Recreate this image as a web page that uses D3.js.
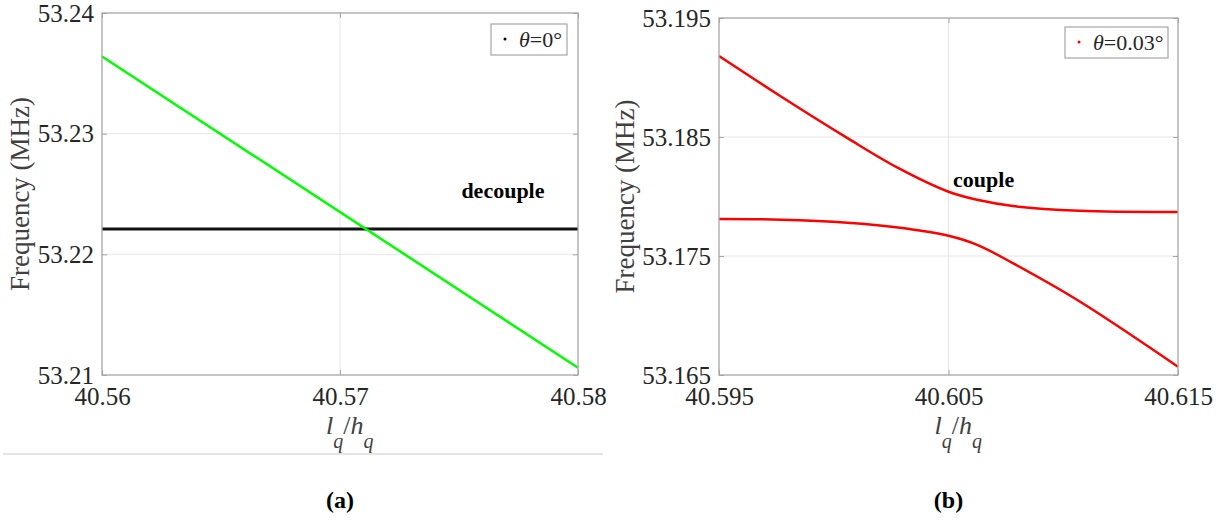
<!DOCTYPE html>
<html>
<head>
<meta charset="utf-8">
<script src="https://cdn.jsdelivr.net/npm/d3@7"></script>
<style>
  body { margin: 0; background: #fff; }
  svg { display: block; font-family: "Liberation Serif", "Times New Roman", serif; }
</style>
</head>
<body>
<svg id="chart" width="1230" height="520"></svg>
<script>
// panel (a): decoupled, theta = 0
const xA = [40.56, 40.58];
const greenA = [53.2364, 53.2106];
const blackA = [53.2221, 53.2221];
const xTicksA = [40.56, 40.57, 40.58];
const yTicksA = [53.21, 53.22, 53.23, 53.24];

// panel (b): coupled, theta = 0.03
const xB = [40.595, 40.5977, 40.6006, 40.6028, 40.605, 40.6063, 40.6078, 40.6107, 40.615];
const upperB = [53.1918, 53.1884, 53.1849, 53.1824, 53.1804, 53.1797, 53.1792, 53.1788, 53.1787];
const lowerB = [53.1781, 53.17805, 53.1778, 53.1774, 53.1767, 53.1759, 53.1744, 53.1712, 53.1657];
const xTicksB = [40.595, 40.605, 40.615];
const yTicksB = [53.165, 53.175, 53.185, 53.195];

const svg = d3.select("#chart");

function drawPanel(o) {
  const x = d3.scaleLinear().domain(d3.extent(o.xTicks)).range([o.left, o.right]);
  const y = d3.scaleLinear().domain(d3.extent(o.yTicks)).range([o.bottom, o.top]);
  const g = svg.append("g");

  // grid
  g.selectAll(".gx").data(o.xTicks.slice(1, -1)).enter().append("line")
    .attr("x1", d => x(d)).attr("x2", d => x(d))
    .attr("y1", o.top).attr("y2", o.bottom)
    .attr("stroke", "#e6e6e6").attr("stroke-width", 1);
  g.selectAll(".gy").data(o.yTicks.slice(1, -1)).enter().append("line")
    .attr("x1", o.left).attr("x2", o.right)
    .attr("y1", d => y(d)).attr("y2", d => y(d))
    .attr("stroke", "#e6e6e6").attr("stroke-width", 1);

  // series
  const line = d3.line().x(d => x(d[0])).y(d => y(d[1])).curve(d3.curveCatmullRom.alpha(0.5));
  o.series.forEach(s => {
    g.append("path")
      .datum(o.xs.map((v, i) => [v, s.values[i]]))
      .attr("d", line)
      .attr("fill", "none")
      .attr("stroke", s.color)
      .attr("stroke-width", s.width);
  });

  // box + inward ticks
  g.append("rect")
    .attr("x", o.left).attr("y", o.top)
    .attr("width", o.right - o.left).attr("height", o.bottom - o.top)
    .attr("fill", "none").attr("stroke", "#a6a6a6").attr("stroke-width", 1.3);

  const axL = d3.axisLeft(y).tickValues(o.yTicks).tickSize(-5).tickPadding(8)
    .tickFormat(d3.format(o.yFmt));
  const axB = d3.axisBottom(x).tickValues(o.xTicks).tickSize(-5).tickPadding(7)
    .tickFormat(d3.format(o.xFmt));
  const axR = d3.axisRight(y).tickValues(o.yTicks).tickSize(-5).tickFormat("");
  const axT = d3.axisTop(x).tickValues(o.xTicks).tickSize(-5).tickFormat("");

  [[axL, `translate(${o.left},0)`, "l"], [axB, `translate(0,${o.bottom})`, "b"],
   [axR, `translate(${o.right},0)`, "r"], [axT, `translate(0,${o.top})`, "t"]].forEach(([ax, t, k]) => {
    const a = g.append("g").attr("transform", t).call(ax);
    a.select(".domain").remove();
    a.selectAll("line").attr("stroke", "#a6a6a6");
    a.selectAll("text").attr("fill", "#262626").style("font-size", "25px")
      .style("font-family", "Liberation Serif, Times New Roman, serif");
    if (k === "b") a.selectAll("text").attr("dy", "0.93em");
  });

  // y label
  const cy = (o.top + o.bottom) / 2;
  g.append("text")
    .attr("transform", `translate(${o.left - o.ylabOff},${cy}) rotate(-90)`)
    .attr("text-anchor", "middle")
    .attr("fill", "#404040")
    .style("font-size", "27px")
    .text("Frequency (MHz)");

  // x label l_q/h_q
  const xl = g.append("text")
    .attr("x", (o.left + o.right) / 2 - 14).attr("y", o.bottom + 59)
    .attr("fill", "#404040").style("font-size", "26px");
  xl.append("tspan").style("font-style", "italic").text("l");
  xl.append("tspan").style("font-style", "italic").attr("dy", 14)
    .style("font-size", "20px").text("q");
  xl.append("tspan").attr("dy", -14).text("/");
  xl.append("tspan").style("font-style", "italic").text("h");
  xl.append("tspan").style("font-style", "italic").attr("dy", 14)
    .style("font-size", "20px").text("q");

  // legend
  const lg = g.append("g");
  lg.append("rect")
    .attr("x", o.legend.x).attr("y", o.legend.y)
    .attr("width", o.legend.w).attr("height", 31)
    .attr("fill", "#fff").attr("stroke", "#a6a6a6").attr("stroke-width", 1.2);
  lg.append("circle")
    .attr("cx", o.legend.x + 14).attr("cy", o.legend.y + 15)
    .attr("r", 1.5).attr("fill", o.legend.color);
  const lt = lg.append("text")
    .attr("x", o.legend.x + 28).attr("y", o.legend.y + 23)
    .attr("fill", "#262626").style("font-size", "22px");
  lt.append("tspan").style("font-style", "italic").text("θ");
  lt.append("tspan").text("=" + o.legend.label + "°");

  // annotation
  g.append("text")
    .attr("x", x(o.note.x)).attr("y", y(o.note.y))
    .attr("fill", "#000").style("font-size", "22px").style("font-weight", "bold")
    .text(o.note.text);

  // panel caption
  svg.append("text")
    .attr("x", (o.left + o.right) / 2).attr("y", 508)
    .attr("text-anchor", "middle")
    .style("font-size", "24px").style("font-weight", "bold")
    .style("font-family", "Liberation Serif, Times New Roman, serif")
    .text(o.caption);
}

drawPanel({
  left: 102, right: 578, top: 13, bottom: 375, ylabOff: 73,
  xs: xA, xTicks: xTicksA, yTicks: yTicksA, xFmt: ".2f", yFmt: ".2f",
  series: [
    { values: blackA, color: "#111", width: 3 },
    { values: greenA, color: "#00ff00", width: 2.5 }
  ],
  legend: { x: 491, y: 24, w: 76, color: "#000", label: "0" },
  note: { x: 40.5751, y: 53.2247, text: "decouple" },
  caption: "(a)"
});

drawPanel({
  left: 719, right: 1178, top: 18, bottom: 375, ylabOff: 85,
  xs: xB, xTicks: xTicksB, yTicks: yTicksB, xFmt: ".3f", yFmt: ".3f",
  series: [
    { values: upperB, color: "#ff0000", width: 2.5 },
    { values: lowerB, color: "#ff0000", width: 2.5 }
  ],
  legend: { x: 1065, y: 27, w: 103, color: "#ff0000", label: "0.03" },
  note: { x: 40.6052, y: 53.1808, text: "couple" },
  caption: "(b)"
});

// separator under panel (a)
svg.append("line")
  .attr("x1", 3).attr("x2", 603).attr("y1", 454).attr("y2", 454)
  .attr("stroke", "#c8c8c8").attr("stroke-width", 1);
</script>
</body>
</html>
